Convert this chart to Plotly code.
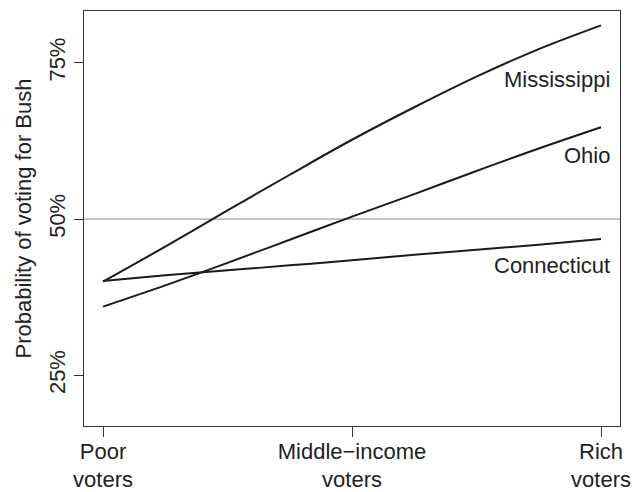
import plotly.graph_objects as go

income_levels = [0, 0.25, 0.5, 0.75, 1.0, 1.25, 1.5, 1.75, 2.0]
tick_positions = [0, 1, 2]
tick_labels = ["Poor<br>voters", "Middle\u2212income<br>voters", "Rich<br>voters"]

mississippi = [40.0, 45.6, 51.4, 57.1, 62.7, 67.9, 72.8, 77.2, 81.0]
ohio = [36.0, 39.4, 43.0, 46.7, 50.4, 54.0, 57.7, 61.3, 64.7]
connecticut = [40.1, 41.0, 41.8, 42.6, 43.4, 44.3, 45.1, 45.9, 46.8]

y_ticks = [25, 50, 75]
y_tick_labels = ["25%", "50%", "75%"]

state_labels = ["Mississippi", "Ohio", "Connecticut"]
label_y = [72.3, 60.2, 42.55]

FONT = "Liberation Sans, Arial, sans-serif"
LINE = "#1a1a1a"
TXT = "#222222"
FS = 22

fig = go.Figure()

for series in [mississippi, ohio, connecticut]:
    fig.add_trace(go.Scatter(
        x=income_levels, y=series, mode="lines",
        line=dict(color=LINE, width=2, shape="spline", smoothing=1.0),
        showlegend=False, hoverinfo="skip",
    ))

fig.add_shape(type="line", xref="paper", x0=0, x1=1, yref="y", y0=50, y1=50,
              line=dict(color="#bdbdbd", width=1.8), layer="below")

for name, yy in zip(state_labels, label_y):
    fig.add_annotation(x=2.045, y=yy, xref="x", yref="y", text=name,
                       showarrow=False, xanchor="right", yanchor="middle",
                       font=dict(family=FONT, size=FS, color=TXT))

fig.update_layout(
    width=634, height=492,
    margin=dict(l=84, r=14, t=11, b=66),
    paper_bgcolor="white", plot_bgcolor="white",
    font=dict(family=FONT, size=FS, color=TXT),
)

fig.update_xaxes(
    range=[-0.0763, 2.0763], tickvals=tick_positions, ticktext=tick_labels,
    showgrid=False, zeroline=False, automargin=False,
    showline=True, mirror=True, linecolor="#333333", linewidth=1.3,
    ticks="outside", ticklen=10, tickwidth=1.2, tickcolor="#333333",
    ticklabelstandoff=-5,
    tickfont=dict(family=FONT, size=FS, color=TXT),
)

fig.update_yaxes(
    range=[16.9, 83.3], tickvals=y_ticks, ticktext=y_tick_labels,
    tickangle=-90, automargin=False,
    showgrid=False, zeroline=False,
    showline=True, mirror=True, linecolor="#333333", linewidth=1.3,
    ticks="outside", ticklen=9, tickwidth=1.2, tickcolor="#333333",
    tickfont=dict(family=FONT, size=FS, color=TXT),
    title=dict(text="Probability of voting for Bush", standoff=7,
               font=dict(family=FONT, size=FS, color=TXT)),
)

fig.write_html("out.html",
               config={"displayModeBar": False},
               post_script="document.body.style.margin='0';document.body.style.overflow='hidden';")
